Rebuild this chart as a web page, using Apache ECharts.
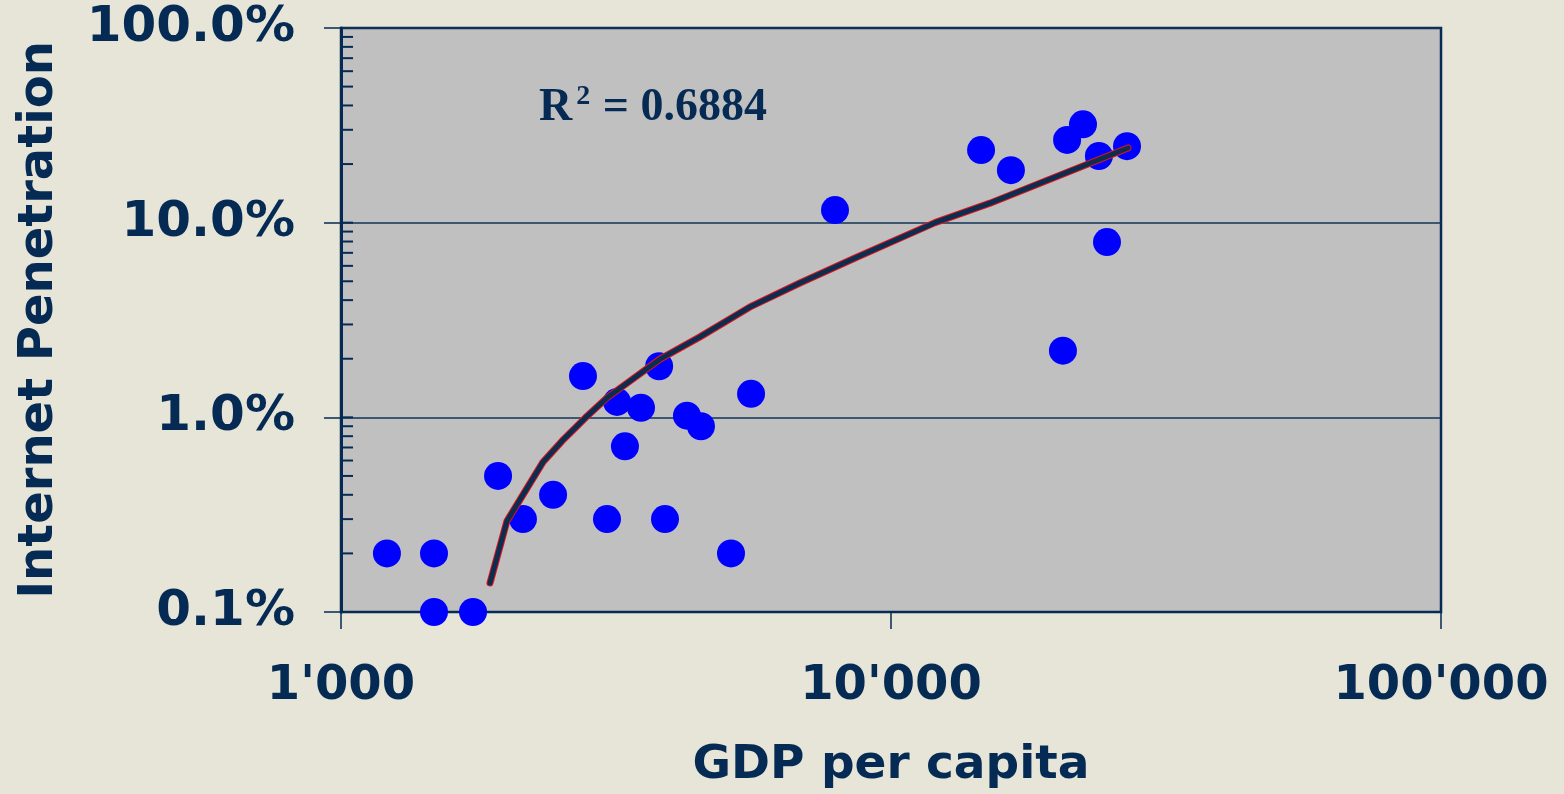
<!DOCTYPE html>
<html>
<head>
<meta charset="utf-8">
<style>
  html, body { margin: 0; padding: 0; background: #e6e5d7; }
  #main { width: 1564px; height: 794px; }
</style>
<script src="https://cdn.jsdelivr.net/npm/echarts@6/dist/echarts.min.js"></script>
</head>
<body>
<div id="main"></div>
<script>
// GDP per capita vs internet penetration (%), one dot per country
var gdp = [1212, 1476, 1476, 1738, 1930, 2142, 2430, 2754, 3045, 3176, 3283, 3511, 3788, 3882,
           4256, 4513, 5118, 5566, 7910, 14580, 16520, 20540, 20900, 22340, 23880, 24700, 26860];
var penetration = [0.2, 0.2, 0.1, 0.1, 0.5, 0.3, 0.4, 1.63, 0.3, 1.2, 0.71, 1.12, 1.83, 0.3,
                   1.02, 0.9, 0.2, 1.32, 11.6, 23.6, 18.6, 2.2, 26.6, 32, 22, 7.95, 24.7];

// trendline
var trendGdp = [1866, 2003, 2329, 2522, 2777, 3045, 3802, 4494, 5542, 6830, 8603, 12023, 15136, 26970];
var trendPen = [0.141, 0.293, 0.589, 0.755, 0.99, 1.26, 1.99, 2.59, 3.69, 4.9, 6.58, 10, 12.6, 24.2];

// inner ticks on the y axis (log minor ticks + the inner half of the majors)
var innerTickValues = [0.2, 0.3, 0.4, 0.5, 0.6, 0.7, 0.8, 0.9, 1,
                       2, 3, 4, 5, 6, 7, 8, 9, 10,
                       20, 30, 40, 50, 60, 70, 80, 90];
var rSquared = '0.6884';

var navy = '#052a53';
var font = '"DejaVu Sans", Verdana, sans-serif';
var serif = '"Liberation Serif", "Times New Roman", serif';

var points = [];
for (var i = 0; i < gdp.length; i++) {
	points.push([gdp[i], penetration[i]]);
}
var trend = [];
for (var i = 0; i < trendGdp.length; i++) {
	trend.push([trendGdp[i], trendPen[i]]);
}
var innerTicks = [];
for (var i = 0; i < innerTickValues.length; i++) {
	innerTicks.push([1000, innerTickValues[i]]);
}

function thousands(v) {
	return String(Math.round(v)).replace(/\B(?=(\d{3})+(?!\d))/g, "'");
}

var myChart = echarts.init(document.getElementById('main'));
var option = {
	backgroundColor: '#e6e5d7',
	animation: false,
	title: {
		left: 534,
		top: 78,
		text: '{r|R}{sup|2}{r| = ' + rSquared + '}',
		textStyle: {
			rich: {
				r: { fontFamily: serif, fontWeight: 'bold', fontSize: 46, color: navy },
				sup: { fontFamily: serif, fontWeight: 'bold', fontSize: 28, color: navy, verticalAlign: 'top', padding: [0, 1, 22, 4] }
			}
		}
	},
	grid: {
		left: 341,
		right: 123,
		top: 28,
		bottom: 182,
		show: true,
		backgroundColor: '#c0c0c0',
		borderColor: navy,
		borderWidth: 2.5
	},
	xAxis: {
		type: 'log',
		logBase: 10,
		min: 1000,
		max: 100000,
		name: 'GDP per capita',
		nameLocation: 'middle',
		nameGap: 130,
		nameTextStyle: { fontFamily: font, fontWeight: 'bold', fontSize: 47, color: navy },
		axisLine: { lineStyle: { color: navy, width: 2 } },
		axisTick: { show: true, length: 17, lineStyle: { color: navy, width: 1.5 } },
		axisLabel: {
			margin: 51,
			fontFamily: font, fontWeight: 'bold', fontSize: 48, color: navy,
			formatter: thousands
		},
		splitLine: { show: false }
	},
	yAxis: {
		type: 'log',
		logBase: 10,
		min: 0.1,
		max: 100,
		name: 'Internet Penetration',
		nameLocation: 'middle',
		nameGap: 277,
		nameTextStyle: { fontFamily: font, fontWeight: 'bold', fontSize: 48, color: navy },
		axisLine: { lineStyle: { color: navy, width: 3 } },
		axisTick: { show: true, length: 17, lineStyle: { color: navy, width: 1.5 } },
		axisLabel: {
			margin: 46,
			fontFamily: font, fontWeight: 'bold', fontSize: 50, color: navy,
			formatter: function (v) { return v.toFixed(1) + '%'; }
		},
		splitLine: { show: true, lineStyle: { color: '#133556', width: 1.5 } }
	},
	series: [{
		// inner y ticks
		type: 'scatter',
		data: innerTicks,
		symbol: 'rect',
		symbolSize: [11, 2],
		symbolOffset: [6.5, 0],
		itemStyle: { color: navy, opacity: 1 },
		silent: true,
		z: 1
	}, {
		type: 'scatter',
		data: points,
		symbolSize: 28,
		itemStyle: { color: '#0000ff', opacity: 1 },
		clip: false,
		z: 3
	}, {
		type: 'line',
		data: trend,
		showSymbol: false,
		symbol: 'none',
		lineStyle: { color: '#e0141e', width: 7, join: 'round', cap: 'round' },
		z: 4
	}, {
		type: 'line',
		data: trend,
		showSymbol: false,
		symbol: 'none',
		lineStyle: { color: '#0d2d4e', width: 5, join: 'round', cap: 'round' },
		z: 5
	}]
};
myChart.setOption(option);
</script>
</body>
</html>
